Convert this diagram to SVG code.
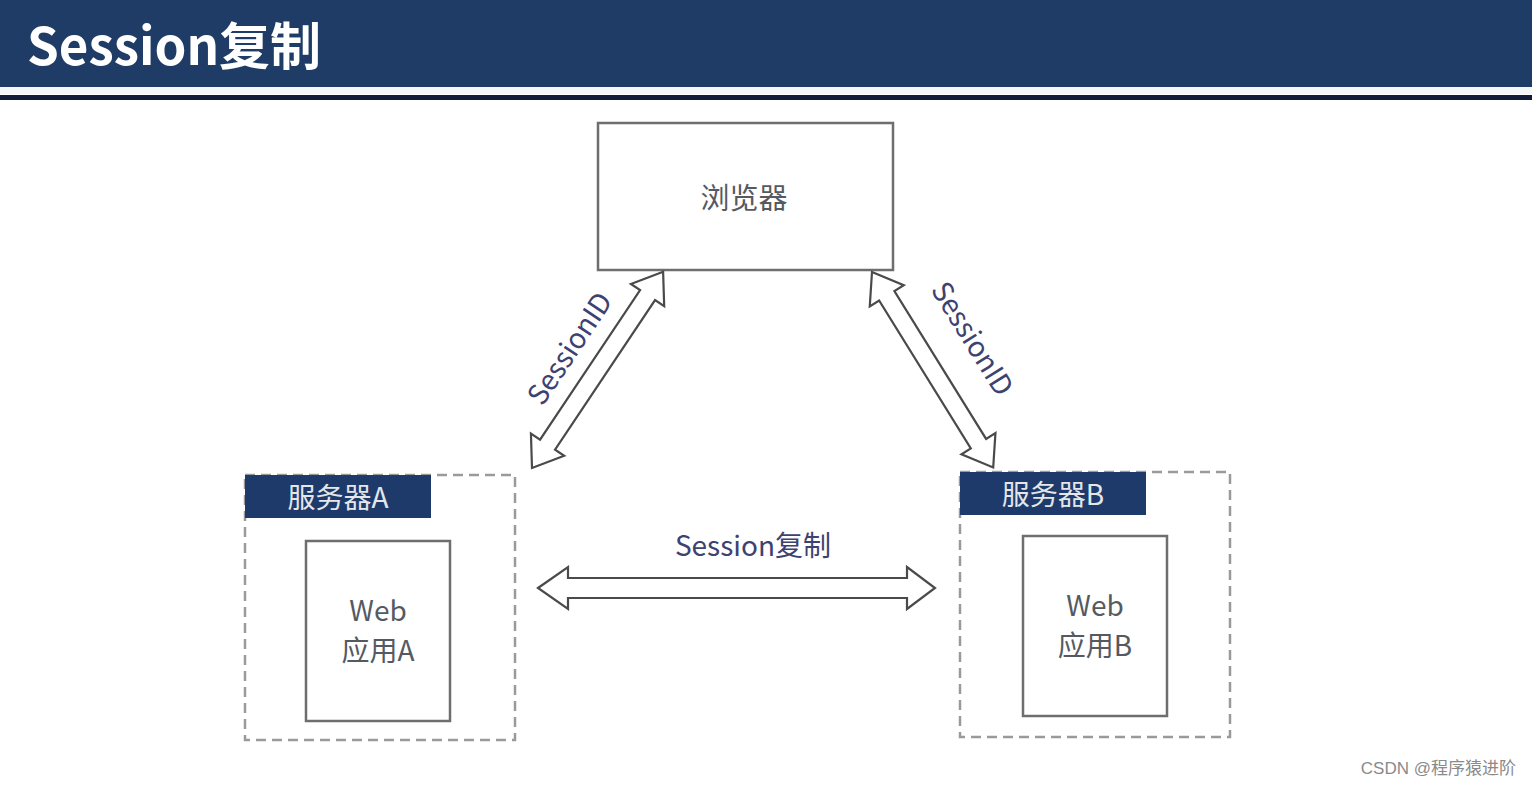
<svg xmlns="http://www.w3.org/2000/svg" width="1532" height="786" viewBox="0 0 1532 786">
<style>
.cn{font-family:"Noto Sans CJK SC","Noto Sans",sans-serif}
.box{fill:#ffffff;stroke:#6e6e6e;stroke-width:2.5}
.dash{fill:none;stroke:#9a9a9a;stroke-width:2.5;stroke-dasharray:10 6}
.hdr{fill:#1d3a6a}
.arr{fill:#ffffff;stroke:#4a4a4a;stroke-width:2.2;stroke-linejoin:miter}
.lbl{fill:#3d4270;font-size:28px}
.txt{fill:#555a62;font-size:29px}
.wt{fill:#555a62;font-size:28px}
.htxt{fill:#e4e6ea;font-size:28px}
</style>
<rect width="1532" height="786" fill="#ffffff"/>
<g id="header">
<rect x="0" y="0" width="1532" height="87" fill="#1f3c67"/>
<rect x="0" y="87" width="1532" height="7" fill="#f4f6f8"/>
<rect x="0" y="95" width="1532" height="5" fill="#141c3c"/>
<text x="27" y="65" class="cn" font-size="51" font-weight="bold" fill="#ffffff">Session复制</text>
</g>
<g id="browser">
<rect x="598" y="123" width="295" height="147" class="box"/>
<text x="744" y="209" class="cn txt" text-anchor="middle">浏览器</text>
</g>
<g id="serverA">
<rect x="245" y="475" width="270" height="265" class="dash"/>
<rect x="245" y="475" width="186" height="43" class="hdr"/>
<text x="338" y="508" class="cn htxt" text-anchor="middle">服务器A</text>
</g>
<g id="webA">
<rect x="306" y="541" width="144" height="180" class="box"/>
<text x="378" y="621" class="cn wt" text-anchor="middle">Web</text>
<text x="378" y="661" class="cn wt" text-anchor="middle">应用A</text>
</g>
<g id="serverB">
<rect x="960" y="472" width="270" height="265" class="dash"/>
<rect x="960" y="472" width="186" height="43" class="hdr"/>
<text x="1053" y="505" class="cn htxt" text-anchor="middle">服务器B</text>
</g>
<g id="webB">
<rect x="1023" y="536" width="144" height="180" class="box"/>
<text x="1095" y="616" class="cn wt" text-anchor="middle">Web</text>
<text x="1095" y="656" class="cn wt" text-anchor="middle">应用B</text>
</g>
<g id="connectors">
<polygon class="arr" transform="translate(538,588)" points="0,0 30,-21 30,-10 369,-10 369,-21 397,0 369,21 369,10 30,10 30,21"/>
<polygon class="arr" transform="translate(532,468) rotate(-56.25)" points="0,0 28,-20 28,-9 208,-9 208,-20 236,0 208,20 208,9 28,9 28,20"/>
<polygon class="arr" transform="translate(872,272) rotate(58.2)" points="0,0 28,-20 28,-9 202,-9 202,-20 230,0 202,20 202,9 28,9 28,20"/>
<text x="753" y="556" class="cn lbl" text-anchor="middle" font-size="27">Session复制</text>
<text class="cn lbl" text-anchor="middle" transform="translate(578,354) rotate(-56.25)">SessionID</text>
<text class="cn lbl" text-anchor="middle" transform="translate(964,344) rotate(58.2)">SessionID</text>
</g>
<text x="1516" y="774" font-family="'Liberation Sans','Noto Sans CJK SC',sans-serif" font-size="17" fill="#8a8a8a" text-anchor="end">CSDN @程序猿进阶</text>
</svg>
